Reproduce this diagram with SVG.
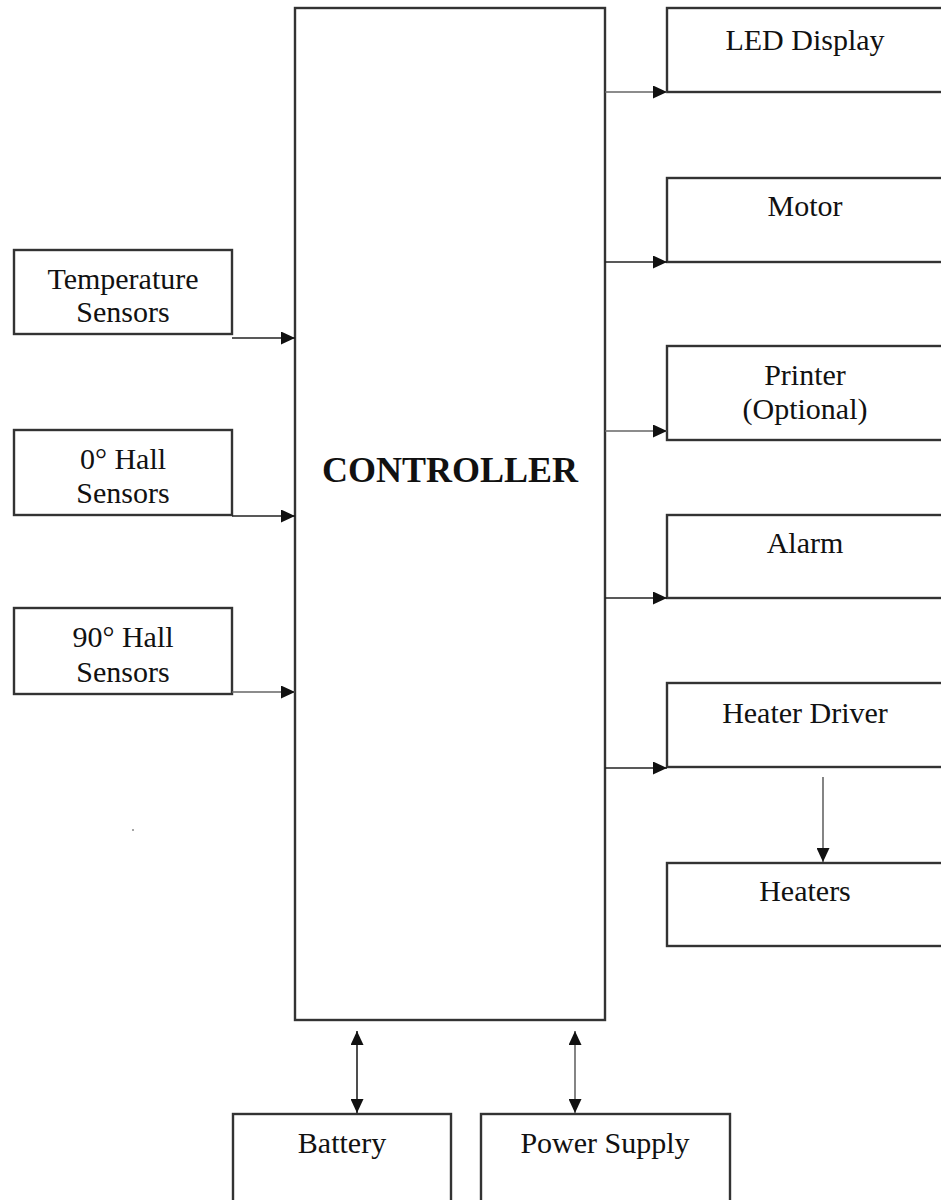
<svg xmlns="http://www.w3.org/2000/svg" width="941" height="1200" viewBox="0 0 941 1200">
<style>
.box{fill:#fff;stroke:#333;stroke-width:2.4}
.t{font-family:"Liberation Serif","Times New Roman",serif;font-size:30px;fill:#111;text-anchor:middle}
.b{font-family:"Liberation Serif","Times New Roman",serif;font-size:36px;font-weight:bold;fill:#111;text-anchor:middle}
.c{fill:none;stroke:#222;stroke-width:1.6}
.g{fill:none;stroke:#666;stroke-width:1.6}
</style>
<defs>
<marker id="ah" markerUnits="userSpaceOnUse" markerWidth="15" markerHeight="13" refX="14" refY="6.5" orient="auto">
<path d="M0,0 L14,6.5 L0,13 z" fill="#111"/>
</marker>
<marker id="as" markerUnits="userSpaceOnUse" markerWidth="15" markerHeight="13" refX="14" refY="6.5" orient="auto-start-reverse">
<path d="M0,0 L14,6.5 L0,13 z" fill="#111"/>
</marker>
</defs>
<rect width="941" height="1200" fill="#fff"/>
<g id="controller"><rect class="box" x="295" y="8" width="310" height="1012"/><text class="b" x="450" y="482">CONTROLLER</text></g>
<g id="temp"><rect class="box" x="14" y="250" width="218" height="84"/><text class="t" x="123" y="289">Temperature</text><text class="t" x="123" y="322">Sensors</text></g>
<g id="hall0"><rect class="box" x="14" y="430" width="218" height="85"/><text class="t" x="123" y="469">0° Hall</text><text class="t" x="123" y="503">Sensors</text></g>
<g id="hall90"><rect class="box" x="14" y="608" width="218" height="86"/><text class="t" x="123" y="647">90° Hall</text><text class="t" x="123" y="682">Sensors</text></g>
<g id="led"><rect class="box" x="667" y="8" width="280" height="84"/><text class="t" x="805" y="50">LED Display</text></g>
<g id="motor"><rect class="box" x="667" y="178" width="280" height="84"/><text class="t" x="805" y="216">Motor</text></g>
<g id="printer"><rect class="box" x="667" y="346" width="280" height="94"/><text class="t" x="805" y="385">Printer</text><text class="t" x="805" y="419">(Optional)</text></g>
<g id="alarm"><rect class="box" x="667" y="515" width="280" height="83"/><text class="t" x="805" y="553">Alarm</text></g>
<g id="heaterdriver"><rect class="box" x="667" y="683" width="280" height="84"/><text class="t" x="805" y="723">Heater Driver</text></g>
<g id="heaters"><rect class="box" x="667" y="863" width="280" height="83"/><text class="t" x="805" y="901">Heaters</text></g>
<g id="battery"><rect class="box" x="233" y="1114" width="218" height="100"/><text class="t" x="342" y="1153">Battery</text></g>
<g id="power"><rect class="box" x="481" y="1114" width="249" height="100"/><text class="t" x="605" y="1153">Power Supply</text></g>
<circle cx="133" cy="830" r="1" fill="#888"/>
<g id="connectors">
<line class="c" x1="232" y1="338" x2="295" y2="338" marker-end="url(#ah)"/>
<line class="c" x1="232" y1="516" x2="295" y2="516" marker-end="url(#ah)"/>
<line class="g" x1="232" y1="692" x2="295" y2="692" marker-end="url(#ah)"/>
<line class="g" x1="605" y1="92" x2="667" y2="92" marker-end="url(#ah)"/>
<line class="c" x1="605" y1="262" x2="667" y2="262" marker-end="url(#ah)"/>
<line class="g" x1="605" y1="431" x2="667" y2="431" marker-end="url(#ah)"/>
<line class="c" x1="605" y1="598" x2="667" y2="598" marker-end="url(#ah)"/>
<line class="c" x1="605" y1="768" x2="667" y2="768" marker-end="url(#ah)"/>
<line class="g" x1="823" y1="777" x2="823" y2="862" marker-end="url(#ah)"/>
<line class="c" x1="357" y1="1031" x2="357" y2="1113" marker-start="url(#as)" marker-end="url(#as)"/>
<line class="g" x1="575" y1="1031" x2="575" y2="1113" marker-start="url(#as)" marker-end="url(#as)"/>
</g>
</svg>
